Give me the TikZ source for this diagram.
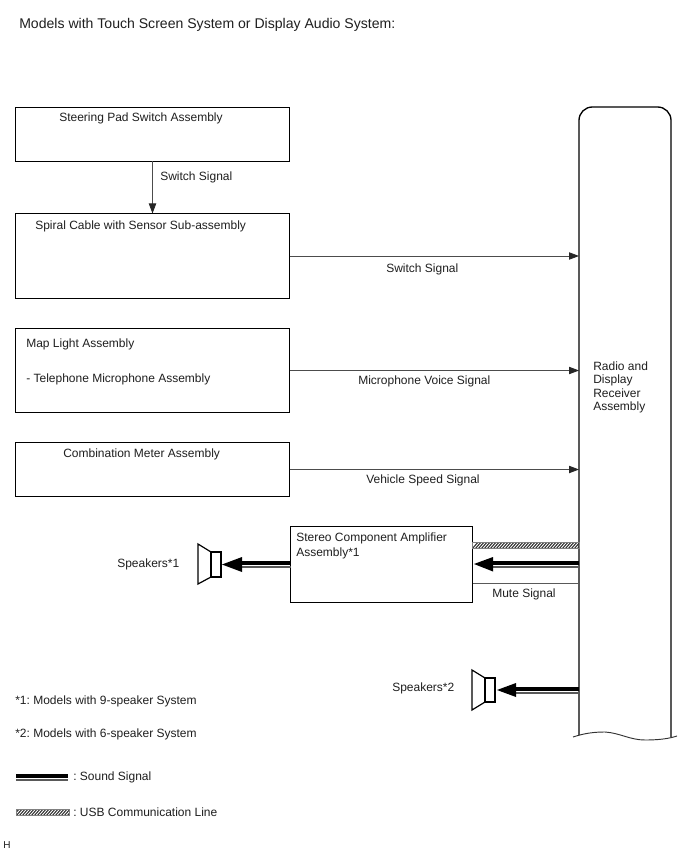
\documentclass[tikz,border=0pt]{standalone}
\usepackage{fontspec}
\setmainfont{Liberation Sans}
\usetikzlibrary{arrows.meta}
\frenchspacing
\tikzset{
  unitbox/.style={draw=black,line width=0.85pt,inner sep=0pt,anchor=north west,outer sep=0pt},
  lbl/.style={inner sep=0pt,anchor=west,font=\fontsize{9}{11}\selectfont,text=black!88},
  sig/.style={draw=black!70,line width=0.6pt,-{Triangle[length=7.5pt,width=5.5pt,fill=black!85,color=black!85]}},
  plain/.style={draw=black!65,line width=0.6pt},
  sndtopplain/.style={draw=black,line width=3pt},
  sndlow/.style={draw=black!65,line width=1.2pt},
  spk/.style={draw=black,line width=0.9pt,fill=white},
  hatchbox/.style={draw=black!50,line width=0.3pt},
}
\begin{document}
\begin{tikzpicture}[x=0.75pt,y=-0.75pt]
\useasboundingbox (0,0) rectangle (688,852);
\fill[white] (0,0) rectangle (688,852);

% title
\node[lbl,font=\fontsize{10.55}{12}\selectfont] (title) at (19,25) {Models with Touch Screen System or Display Audio System:};

% boxes
\node[unitbox,minimum width=205.5pt,minimum height=40.5pt] (steer) at (15.5,107.5) {};
\node[unitbox,minimum width=205.5pt,minimum height=63.75pt] (spiral) at (15.5,213.5) {};
\node[unitbox,minimum width=205.5pt,minimum height=63pt] (map) at (15.5,328.5) {};
\node[unitbox,minimum width=205.5pt,minimum height=40.5pt] (combo) at (15.5,442.5) {};
\node[unitbox,minimum width=136.5pt,minimum height=57pt] (amp) at (290.5,526.5) {};
\node[inner sep=0pt,outer sep=0pt,anchor=north west,minimum width=69pt,minimum height=472.5pt] (radio) at (579,107) {};

% radio outline
\draw[black,line width=1pt,rounded corners=10pt] (579,735) -- (579,107) -- (671,107) -- (671,737);
\draw[black!80,line width=0.7pt] (573,737) .. controls (585,733) and (595,732) .. (605,732)
  .. controls (620,733) and (630,740) .. (645,740) .. controls (657,740) and (668,739) .. (677,736);

% texts in boxes
\node[lbl] (t1) at (59,118) {Steering Pad Switch Assembly};
\node[lbl] (t2) at (35,226) {Spiral Cable with Sensor Sub-assembly};
\node[lbl] (t3) at (26,344) {Map Light Assembly};
\node[lbl] (t4) at (26,379) {- Telephone Microphone Assembly};
\node[lbl] (t5) at (63,454) {Combination Meter Assembly};
\node[lbl] (t6) at (296,538) {Stereo Component Amplifier};
\node[lbl] (t7) at (296,553) {Assembly*1};
\node[lbl] (r1) at (593,366) {Radio and};
\node[lbl] (r2) at (593,380) {Display};
\node[lbl] (r3) at (593,393) {Receiver};
\node[lbl] (r4) at (593,407) {Assembly};

% signals
\draw[sig] (steer.south) -- (spiral.north);
\draw[sig] (spiral.east) -- (spiral.east -| radio.west);
\draw[sig] (map.east) -- (map.east -| radio.west);
\draw[sig] (combo.east) -- (combo.east -| radio.west);
\node[lbl] at (160,177) {Switch Signal};
\node[lbl] at (386,269) {Switch Signal};
\node[lbl] at (358,381) {Microphone Voice Signal};
\node[lbl] at (366,480) {Vehicle Speed Signal};

% USB hatch
\coordinate (usbA) at (amp.east |- 0,542);
\coordinate (usbB) at (radio.west |- 0,548);
\begin{scope}
\clip (usbA) rectangle (usbB);
\foreach \k in {472,475,...,585} \draw[black!80,line width=0.8pt] (\k,549) -- (\k+7,541);
\end{scope}
\draw[hatchbox] (usbA) rectangle (usbB);

% sound amp input
\coordinate (ampIn) at (amp.east |- 0,564);
\draw[sndlow] (radio.west |- 0,567) -- (490,567);
\draw[sndtopplain] (radio.west |- 0,563) -- (490,563);
\fill[black] (ampIn -| 474,0) -- (493,557) -- (493,571.5) -- cycle;

% mute
\draw[plain] (amp.east |- 0,583) -- (radio.west |- 0,583);
\node[lbl] at (492,594) {Mute Signal};

% speakers 1
\node[lbl] (s1) at (117,564) {Speakers*1};
\draw[spk] (198,544) -- (211,552) -- (211,577) -- (198,584) -- cycle;
\node[draw=black,line width=0.9pt,fill=white,inner sep=0pt,outer sep=0pt,minimum width=7.5pt,minimum height=18.75pt] (spk1) at (216,564.5) {};
\draw[sndlow] (amp.west |- 0,567) -- (241,567);
\draw[sndtopplain] (amp.west |- 0,563) -- (238,563);
\fill[black] (222,564.5) -- (242,557) -- (242,572) -- cycle;

% speakers 2
\node[lbl] (s2) at (392,688) {Speakers*2};
\draw[spk] (472,670) -- (485,678) -- (485,702) -- (472,710) -- cycle;
\node[draw=black,line width=0.9pt,fill=white,inner sep=0pt,outer sep=0pt,minimum width=7.5pt,minimum height=18pt] (spk2) at (490,690) {};
\draw[sndlow] (radio.west |- 0,693) -- (514,693);
\draw[sndtopplain] (radio.west |- 0,689) -- (512,689);
\fill[black] (497,690) -- (516,683) -- (516,697) -- cycle;

% notes
\node[lbl] at (15,701) {*1: Models with 9-speaker System};
\node[lbl] at (15,734) {*2: Models with 6-speaker System};

% legend
\coordinate (legA) at (16,776);
\coordinate (legB) at (68,776);
\draw[sndtopplain] (legA) -- (legB);
\draw[sndlow] (16,780) -- (68,780);
\node[lbl] at (73,777) {: Sound Signal};
\coordinate (lA) at (16,809);
\coordinate (lB) at (69,815);
\begin{scope}
\clip (lA) rectangle (lB);
\foreach \k in {10,13,...,70} \draw[black!80,line width=0.8pt] (\k,816) -- (\k+7,808);
\end{scope}
\draw[hatchbox] (lA) rectangle (lB);
\node[lbl] at (73,812) {: USB Communication Line};
\node[lbl,font=\fontsize{7.5}{8}\selectfont] at (3,845) {H};
\end{tikzpicture}
\end{document}
